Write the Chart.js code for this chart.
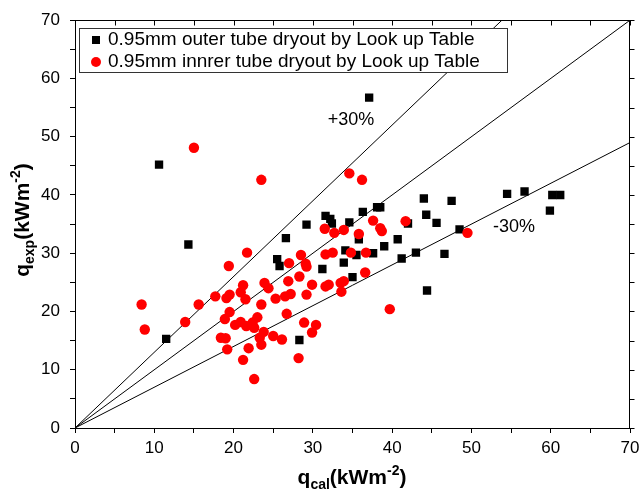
<!DOCTYPE html>
<html><head><meta charset="utf-8">
<script src="https://cdn.jsdelivr.net/npm/chart.js@4/dist/chart.umd.min.js"></script>
<style>html,body{margin:0;padding:0;background:#fff}#wrap{width:641px;height:497px}</style>
</head><body><div id="wrap"><canvas id="c" width="641" height="497"></canvas></div>
<script>
// ---- data ----
const seriesNames = ['0.95mm outer tube dryout by Look up Table', '0.95mm innrer tube dryout by Look up Table'];
const outerX = [10.6,14.3,11.5,37.1,28.3,25.5,25.8,26.6,29.2,31.2,31.6,32.2,32.4,34.6,33.9,34.1,35.0,35.5,35.8,36.3,37.6,38.1,38.5,39.0,40.7,41.2,42.0,43.0,44.0,44.3,44.4,45.6,46.6,47.5,48.5,54.5,56.7,59.9,60.2,61.2];
const outerY = [45.2,31.5,15.3,56.7,15.1,29.0,27.8,32.6,34.9,27.3,36.4,35.9,35.1,35.3,28.4,30.5,25.9,29.7,32.4,37.1,30.0,37.9,37.9,31.2,32.4,29.1,35.1,30.1,39.4,36.6,23.6,35.2,29.9,39.0,34.1,40.2,40.6,37.3,40.0,40.0];
const innerX = [8.4,8.8,13.9,15.0,15.6,17.7,18.4,19.0,19.2,18.9,19.5,19.1,19.5,19.4,20.2,20.9,20.9,21.2,21.5,21.6,21.7,21.2,21.9,22.4,22.6,23.0,22.6,23.5,23.5,23.3,23.5,23.8,23.9,24.4,25.0,25.3,26.1,26.5,27.2,26.7,26.9,27.0,28.2,28.3,28.5,28.9,29.1,29.2,29.2,29.9,29.9,30.4,31.5,31.6,31.6,32.0,32.5,32.7,33.5,33.9,33.6,33.9,34.6,34.8,35.8,36.2,36.6,36.7,37.6,38.5,38.7,39.7,41.7,49.5];
const innerY = [21.2,16.9,18.2,48.1,21.2,22.6,15.5,15.4,13.5,18.7,19.9,22.3,22.9,27.8,17.7,18.2,23.3,24.5,22.1,17.5,30.1,11.7,13.7,18.1,17.2,19.0,8.4,42.6,21.2,15.5,14.3,16.5,24.9,24.0,15.8,22.2,15.2,22.6,23.0,19.6,25.2,28.3,12.0,26.0,29.7,18.1,28.2,27.7,22.9,24.6,16.4,17.7,34.2,29.8,24.3,24.6,30.1,33.5,24.9,25.2,23.4,34.0,43.7,30.1,33.3,42.6,26.7,30.1,35.6,34.3,33.8,20.4,35.5,33.5];
const axisMin = 0, axisMax = 70;
const tickValues = [0,5,10,15,20,25,30,35,40,45,50,55,60,65,70];
const refSlopes = [1.3, 1.0, 0.7];
const refLabels = ['+30%', '-30%'];

const toPts = (xs, ys) => xs.map((v, i) => ({x: v, y: ys[i]}));
const refLine = s => s >= 1 ? [{x: 0, y: 0}, {x: axisMax / s, y: axisMax}] : [{x: 0, y: 0}, {x: axisMax, y: axisMax * s}];

const FONT = '"Liberation Sans", Arial, sans-serif';

function drawRich(ctx, parts, cx, cy) {
  let w = 0;
  parts.forEach(p => { ctx.font = 'bold ' + p.size + 'px ' + FONT; p.w = ctx.measureText(p.t).width; w += p.w; });
  let x = cx - w / 2;
  ctx.textBaseline = 'alphabetic'; ctx.textAlign = 'left';
  parts.forEach(p => { ctx.font = 'bold ' + p.size + 'px ' + FONT; ctx.fillText(p.t, x, cy + p.dy); x += p.w; });
}

const decor = {
  id: 'decor',
  afterDraw(chart) {
    const {ctx, chartArea: a, scales: {x, y}} = chart;
    ctx.save();
    ctx.strokeStyle = '#000'; ctx.lineWidth = 1;
    const T = Math.round(a.top) + 0.5, R = Math.round(a.right) - 0.5;
    ctx.beginPath();
    ctx.moveTo(a.left, T); ctx.lineTo(R, T); ctx.lineTo(R, a.bottom);
    tickValues.forEach(v => {
      const px = Math.round(x.getPixelForValue(v)) + 0.5;
      ctx.moveTo(px, T); ctx.lineTo(px, T + 5);
      const py = Math.round(y.getPixelForValue(v)) + 0.5;
      ctx.moveTo(R, py); ctx.lineTo(R + 5, py);
    });
    ctx.stroke();

    // legend
    ctx.fillStyle = '#fff';
    ctx.fillRect(80, 29, 427, 43);
    ctx.strokeStyle = '#333';
    ctx.strokeRect(79.5, 28.5, 428, 44);
    ctx.fillStyle = '#000';
    ctx.fillRect(92, 36, 8, 8);
    ctx.fillStyle = '#ff0000';
    ctx.beginPath(); ctx.arc(96, 62, 5, 0, Math.PI * 2); ctx.fill();
    ctx.fillStyle = '#000';
    ctx.font = '19px ' + FONT; ctx.textBaseline = 'middle'; ctx.textAlign = 'left';
    ctx.fillText(seriesNames[0], 108, 40);
    ctx.fillText(seriesNames[1], 108, 62);

    // annotations
    ctx.font = '18px ' + FONT;
    ctx.textAlign = 'center';
    ctx.fillText(refLabels[0], 351, 120);
    ctx.fillText(refLabels[1], 514, 227);

    // axis titles
    drawRich(ctx, [{t:'q',size:21,dy:0},{t:'cal',size:14,dy:5},{t:'(kWm',size:21,dy:0},{t:'-2',size:14,dy:-9},{t:')',size:21,dy:0}], 352, 484);
    ctx.save();
    ctx.translate(29, 220); ctx.rotate(-Math.PI / 2);
    drawRich(ctx, [{t:'q',size:21,dy:0},{t:'exp',size:14,dy:5},{t:'(kWm',size:21,dy:0},{t:'-2',size:14,dy:-9},{t:')',size:21,dy:0}], 0, 0);
    ctx.restore();
    ctx.restore();
  }
};

const axisCommon = {
  type: 'linear', min: axisMin, max: axisMax,
  grid: { drawOnChartArea: false, drawTicks: true, tickLength: 5, color: '#000', lineWidth: 1 },
  border: { color: '#000', width: 1 },
  ticks: { stepSize: 5, autoSkip: false, color: '#000', font: { size: 17, family: FONT },
           callback: v => (v % 10 === 0 ? v : '') }
};

new Chart(document.getElementById('c'), {
  data: {
    datasets: [
      { type: 'scatter', label: seriesNames[1], data: toPts(innerX, innerY), pointStyle: 'circle', pointRadius: 5.2, pointHoverRadius: 5.2,
        backgroundColor: '#ff0000', borderColor: '#ff0000', borderWidth: 0, order: 0 },
      { type: 'scatter', label: seriesNames[0], data: toPts(outerX, outerY), pointStyle: 'rect', pointRadius: 5.9, pointHoverRadius: 5.9,
        backgroundColor: '#000', borderColor: '#000', borderWidth: 0, order: 1 },
      ...refSlopes.map(s => ({ type: 'line', label: 'ref' + s, data: refLine(s), borderColor: '#000', borderWidth: 1,
        pointRadius: 0, fill: false, order: 2 }))
    ]
  },
  options: {
    responsive: false, animation: false, devicePixelRatio: 1,
    layout: { padding: { left: 0, right: 11, top: 16, bottom: 0 } },
    plugins: { legend: { display: false }, tooltip: { enabled: false } },
    scales: {
      x: { ...axisCommon, position: 'bottom', ticks: { ...axisCommon.ticks, padding: 5 },
           afterFit: s => { s.height = 69; s.paddingRight = 0; } },
      y: { ...axisCommon, position: 'left', ticks: { ...axisCommon.ticks, padding: 10 },
           afterFit: s => { s.width = 75; } }
    }
  },
  plugins: [decor]
});
</script>
</body></html>
